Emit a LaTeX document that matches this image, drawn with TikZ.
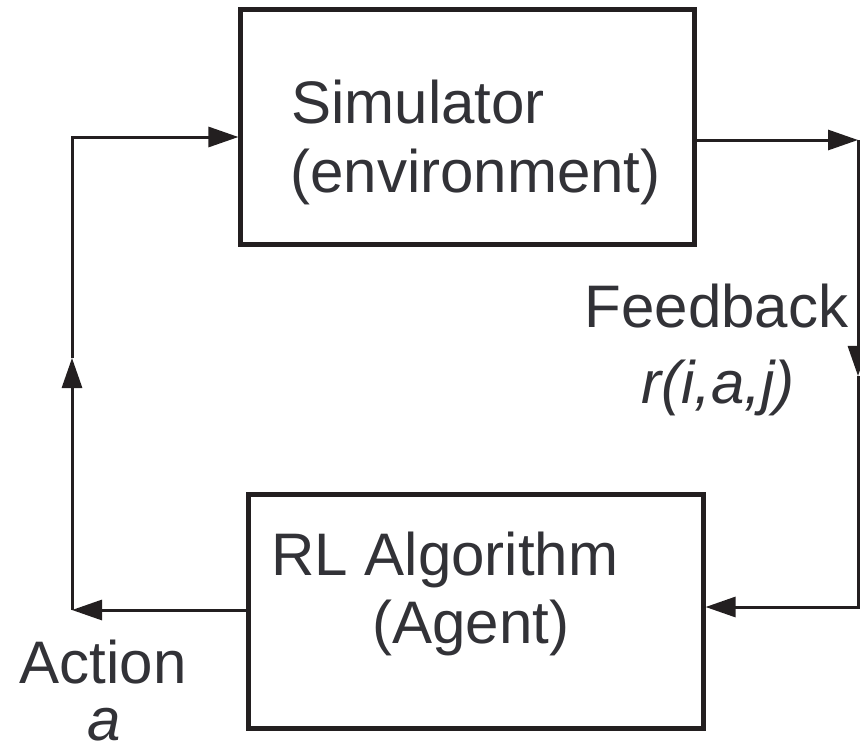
\documentclass[tikz,border=0pt]{standalone}
\usepackage{fontspec}
\setmainfont{Liberation Sans}
\usetikzlibrary{arrows.meta}

\definecolor{ink}{RGB}{35,31,32}
\definecolor{txt}{RGB}{50,50,55}
\newcommand\bigsf{\fontsize{42.7pt}{49pt}\selectfont}

\tikzset{
  block/.style={draw=ink, line width=0.125cm, inner sep=0pt},
  flow/.style={draw=ink, line width=0.075cm, -{Triangle[length=0.75cm,width=0.5cm]}},
  lbl/.style={font=\bigsf, text=txt, inner sep=0pt},
}

\begin{document}
\begin{tikzpicture}[x=0.025cm, y=-0.025cm]
\useasboundingbox (0,0) rectangle (860,750);

% boxes
\node[block, minimum width=11.325cm, minimum height=5.85cm] (sim) at (467.5,127) {};
\node[block, minimum width=11.35cm, minimum height=5.825cm] (agent) at (476,611.5) {};

% texts
\node[lbl, anchor=base west] (simname) at (291,123) {Simulator};
\node[lbl, anchor=base west] (simenv) at (290,192) {(environment)};
\node[lbl, anchor=base west] (agname) at (271,575) {RL Algorithm};
\node[lbl, anchor=base west] (agrole) at (372,643) {(Agent)};
\node[lbl, anchor=base] (fbname) at (716.5,327) {Feedback};
\node[lbl, anchor=base, font=\bigsf\itshape] (fbval) at (718,403) {r(i,a,j)};
\node[lbl, anchor=base] (actname) at (103,683) {Action};
\node[lbl, anchor=base, font=\bigsf\itshape] (actval) at (104,740) {a};

% corners of the loop
\coordinate (actcorner) at (72,610);
\coordinate (uptip) at (72,358);
\coordinate (simcorner) at (72,137);
\coordinate (fbcorner) at (858,140);
\coordinate (downtip) at (858,376);
\coordinate (agcorner) at (858,607);

% action side
\draw[flow] (agent.west |- actcorner) -- (actcorner);
\draw[flow] (actcorner) -- (uptip);
\draw[flow] (uptip) -- (simcorner) -- (simcorner -| sim.west);

% feedback side
\draw[flow] (sim.east |- fbcorner) -- (fbcorner);
\draw[flow] (fbcorner) -- (downtip);
\draw[flow] (downtip) -- (agcorner) -- (agcorner -| agent.east);

\end{tikzpicture}
\end{document}
